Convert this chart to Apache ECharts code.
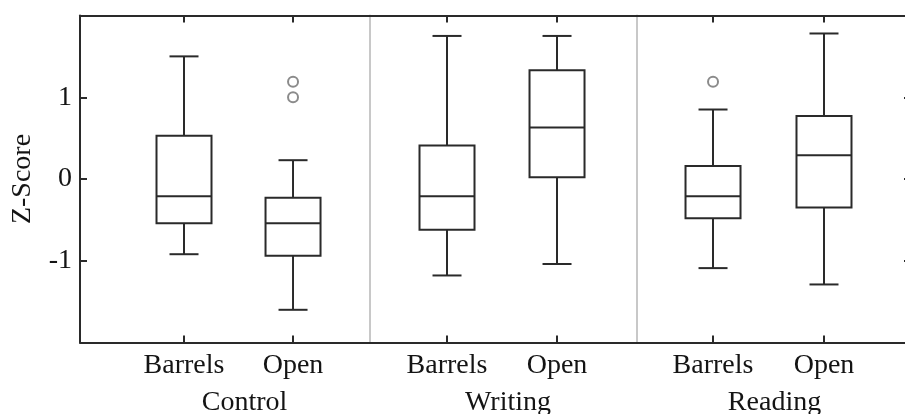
<!DOCTYPE html>
<html>
<head>
<meta charset="utf-8">
<script src="https://cdn.jsdelivr.net/npm/echarts@6/dist/echarts.min.js"></script>
<style>
  html, body { margin: 0; padding: 0; background: #fff; }
  #chart { width: 905px; height: 414px; }
</style>
</head>
<body>
<div id="chart"></div>
<script>
// Group and condition names
const groups = ['Control', 'Writing', 'Reading'];
const conditions = ['Barrels', 'Open'];

// Box statistics per condition: [lower whisker, Q1, median, Q3, upper whisker]
const controlStats = [
  [-0.92, -0.54, -0.21, 0.53, 1.50],
  [-1.60, -0.94, -0.54, -0.23, 0.23]
];
const writingStats = [
  [-1.18, -0.62, -0.21, 0.41, 1.75],
  [-1.04, 0.02, 0.63, 1.33, 1.75]
];
const readingStats = [
  [-1.09, -0.48, -0.21, 0.16, 0.85],
  [-1.29, -0.35, 0.29, 0.77, 1.78]
];

// Outliers: [condition index, z-score]
const controlOutliers = [[1, 1.19], [1, 1.00]];
const writingOutliers = [];
const readingOutliers = [[0, 1.19]];

// Y axis tick labels (ticks run from -2 to 2 in steps of 1)
const yTickLabels = ['-1', '0', '1'];

const statsByGroup = [controlStats, writingStats, readingStats];
const outliersByGroup = [controlOutliers, writingOutliers, readingOutliers];

const FONT = "'Liberation Serif', 'Times New Roman', serif";
const FONT_SIZE = 28;
const INK = '#2a2a2a';
const TEXT = '#141414';

// Panel layout (pixel rectangles) and horizontal extents of each panel
const panels = [
  { left: 80, width: 290, min: -0.954, max: 1.706 },
  { left: 370, width: 267, min: -0.70, max: 1.727 },
  { left: 637, width: 274, min: -0.685, max: 1.784 }
];
const TOP = 15.5, HEIGHT = 327;

const grid = [], xAxis = [], yAxis = [], series = [];

panels.forEach((p, gi) => {
  grid.push({
    left: p.left, top: TOP, width: p.width, height: HEIGHT,
    containLabel: false, outerBoundsMode: 'none'
  });

  const condIdx = conditions.map((_, i) => i);

  // bottom axis with condition labels
  xAxis.push({
    gridIndex: gi, type: 'value', position: 'bottom', min: p.min, max: p.max,
    axisLine: { show: true, onZero: false, lineStyle: { color: INK, width: 2 } },
    axisTick: { show: true, inside: true, length: 7, customValues: condIdx, lineStyle: { color: INK, width: 2 } },
    axisLabel: {
      show: true, customValues: condIdx, margin: 9,
      formatter: v => conditions[Math.round(v)],
      fontFamily: FONT, fontSize: FONT_SIZE, color: TEXT
    },
    splitLine: { show: false }
  });
  // top frame line with ticks
  xAxis.push({
    gridIndex: gi, type: 'value', position: 'top', min: p.min, max: p.max,
    axisLine: { show: true, onZero: false, lineStyle: { color: INK, width: 2 } },
    axisTick: { show: true, inside: true, length: 7, customValues: condIdx, lineStyle: { color: INK, width: 2 } },
    axisLabel: { show: false },
    splitLine: { show: false }
  });
  // group name under each pair of conditions
  xAxis.push({
    gridIndex: gi, type: 'value', position: 'bottom', offset: 37, min: p.min, max: p.max,
    axisLine: { show: false, onZero: false }, axisTick: { show: false },
    axisLabel: {
      show: true, customValues: [0.5], margin: 9, padding: [0, 0, 0, 12],
      formatter: () => groups[gi],
      fontFamily: FONT, fontSize: FONT_SIZE, color: TEXT
    },
    splitLine: { show: false }
  });

  if (gi === 0) {
    yAxis.push({
      gridIndex: gi, type: 'value', min: -2, max: 2, interval: 1, position: 'left',
      name: 'Z-Score', nameLocation: 'middle', nameGap: 43, nameRotate: 90,
      nameTextStyle: { fontFamily: FONT, fontSize: FONT_SIZE, color: TEXT },
      axisLine: { show: true, onZero: false, lineStyle: { color: INK, width: 2 } },
      axisTick: { show: true, inside: true, length: 7, lineStyle: { color: INK, width: 2 } },
      axisLabel: {
        margin: 8, fontFamily: FONT, fontSize: FONT_SIZE, color: TEXT,
        formatter: v => (yTickLabels.includes(String(v)) ? String(v) : '')
      },
      splitLine: { show: false }
    });
  } else {
    // light separator between panels
    yAxis.push({
      gridIndex: gi, type: 'value', min: -2, max: 2, interval: 1, position: 'left',
      axisLine: { show: true, onZero: false, lineStyle: { color: '#c8c8c8', width: 2 } },
      axisTick: { show: false }, axisLabel: { show: false }, splitLine: { show: false }
    });
  }
  if (gi === panels.length - 1) {
    yAxis.push({
      gridIndex: gi, type: 'value', min: -2, max: 2, interval: 1, position: 'right',
      axisLine: { show: true, onZero: false, lineStyle: { color: INK, width: 2 } },
      axisTick: { show: true, inside: true, length: 7, lineStyle: { color: INK, width: 2 } },
      axisLabel: { show: false }, splitLine: { show: false }
    });
  }
});

// index of the bottom x axis and the main y axis for each panel
const xIndexOf = gi => gi * 3;
const yIndexOf = gi => gi;

function renderBox(params, api) {
  const x = api.value(0);
  const lo = api.coord([x, api.value(1)]);
  const q1 = api.coord([x, api.value(2)]);
  const md = api.coord([x, api.value(3)]);
  const q3 = api.coord([x, api.value(4)]);
  const hi = api.coord([x, api.value(5)]);
  const cx = lo[0];
  const boxW = 55, capW = 29;
  const st = { stroke: INK, lineWidth: 2, fill: null };
  return {
    type: 'group',
    children: [
      { type: 'rect', shape: { x: cx - boxW / 2, y: q3[1], width: boxW, height: q1[1] - q3[1] },
        style: { stroke: INK, lineWidth: 2, fill: '#fff' } },
      { type: 'line', shape: { x1: cx - boxW / 2, y1: md[1], x2: cx + boxW / 2, y2: md[1] }, style: st },
      { type: 'line', shape: { x1: cx, y1: q3[1], x2: cx, y2: hi[1] }, style: st },
      { type: 'line', shape: { x1: cx, y1: q1[1], x2: cx, y2: lo[1] }, style: st },
      { type: 'line', shape: { x1: cx - capW / 2, y1: hi[1], x2: cx + capW / 2, y2: hi[1] }, style: st },
      { type: 'line', shape: { x1: cx - capW / 2, y1: lo[1], x2: cx + capW / 2, y2: lo[1] }, style: st }
    ]
  };
}

statsByGroup.forEach((stats, gi) => {
  series.push({
    type: 'custom',
    xAxisIndex: xIndexOf(gi),
    yAxisIndex: yIndexOf(gi),
    renderItem: renderBox,
    encode: { x: 0, y: [1, 2, 3, 4, 5] },
    data: stats.map((s, i) => [i].concat(s)),
    silent: true,
    z: 2
  });
  series.push({
    type: 'scatter',
    xAxisIndex: xIndexOf(gi),
    yAxisIndex: yIndexOf(gi),
    data: outliersByGroup[gi],
    symbol: 'circle',
    symbolSize: 10,
    itemStyle: { color: '#fff', borderColor: '#6e6e6e', borderWidth: 2 },
    silent: true,
    z: 3
  });
});

const chart = echarts.init(document.getElementById('chart'), null, { renderer: 'canvas' });
chart.setOption({
  animation: false,
  backgroundColor: '#fff',
  grid, xAxis, yAxis, series
});
</script>
</body>
</html>
